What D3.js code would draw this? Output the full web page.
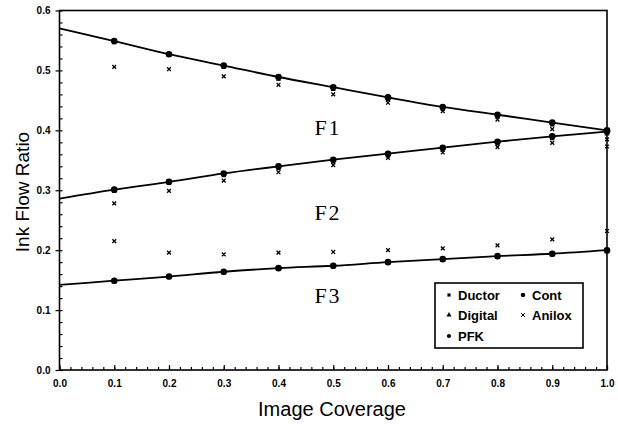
<!DOCTYPE html>
<html><head><meta charset="utf-8">
<script src="https://cdn.jsdelivr.net/npm/d3@7"></script>
<style>body{margin:0;background:#fff}svg{display:block}</style>
</head><body>
<script>
// ---- data ----
const fitCoverage = [0.0,0.1,0.2,0.3,0.4,0.5,0.6,0.7,0.8,0.9,1.0];
const coverage = [0.1,0.2,0.3,0.4,0.5,0.6,0.7,0.8,0.9,1.0];
const fitF1 = [0.570,0.549,0.527,0.508,0.489,0.472,0.455,0.439,0.426,0.413,0.400];
const fitF2 = [0.286,0.301,0.314,0.328,0.340,0.351,0.361,0.371,0.381,0.390,0.398];
const fitF3 = [0.142,0.149,0.156,0.164,0.170,0.174,0.180,0.185,0.190,0.194,0.200];
// measured series (F1, F2, F3 groups)
const pfkF1 = [0.549,0.527,0.508,0.489,0.472,0.455,0.439,0.426,0.413,0.400];
const pfkF2 = [0.301,0.314,0.328,0.340,0.351,0.361,0.371,0.381,0.390,0.398];
const pfkF3 = [0.149,0.156,0.164,0.170,0.174,0.180,0.185,0.190,0.194,0.200];
const contF1 = [0.549,0.528,0.508,0.488,0.472,0.456,0.439,0.425,0.412,0.401];
const contF2 = [0.302,0.314,0.328,0.340,0.351,0.362,0.371,0.381,0.390,0.397];
const contF3 = [0.150,0.156,0.164,0.170,0.175,0.180,0.185,0.190,0.195,0.201];
const ductorF1 = [0.547,0.526,0.506,0.486,0.469,0.452,0.436,0.423,0.410,0.397];
const ductorF2 = [0.299,0.312,0.325,0.337,0.348,0.358,0.368,0.378,0.387,0.395];
const ductorF3 = [0.148,0.155,0.163,0.169,0.173,0.179,0.184,0.189,0.193,0.198];
const digitalF1 = [0.546,0.525,0.505,0.485,0.468,0.451,0.435,0.422,0.409,0.396];
const digitalF2 = [0.298,0.311,0.324,0.336,0.347,0.357,0.367,0.377,0.386,0.394];
const digitalF3 = [0.147,0.154,0.162,0.168,0.172,0.178,0.183,0.188,0.192,0.197];
const aniloxF1 = [0.506,0.502,0.490,0.476,0.460,0.446,0.432,0.418,0.402,0.385];
const aniloxF2 = [0.278,0.299,0.316,0.330,0.342,0.354,0.363,0.372,0.379,0.373];
const aniloxF3 = [0.215,0.196,0.193,0.196,0.197,0.200,0.203,0.208,0.218,0.232];
const xTicks = [0,0.1,0.2,0.3,0.4,0.5,0.6,0.7,0.8,0.9,1.0];
const yTicks = [0,0.1,0.2,0.3,0.4,0.5,0.6];
const groupLabels = ["F1","F2","F3"];
const legendNames = ["Ductor","Cont","Digital","Anilox","PFK"];

// ---- layout ----
const W = 618, H = 430;
const L = 59.5, R = 607, T = 10.5, B = 370;
const svg = d3.select("body").append("svg").attr("width", W).attr("height", H);
const x = d3.scaleLinear().domain([0,1]).range([L,R]);
const y = d3.scaleLinear().domain([0,0.6]).range([B,T]);
const sans = "Arial, 'Liberation Sans', sans-serif";

// frame
svg.append("rect").attr("x",L).attr("y",T).attr("width",R-L).attr("height",B-T)
  .attr("fill","none").attr("stroke","#000").attr("stroke-width",1.6);

// x axis
const xAxis = svg.append("g").attr("transform",`translate(0,${B})`);
xAxis.call(d3.axisBottom(x).tickValues(d3.range(0,1.0001,0.02)).tickSize(-3).tickFormat(""))
  .call(g=>g.select(".domain").remove());
xAxis.append("g").call(d3.axisBottom(x).tickValues(xTicks).tickSize(-5).tickSizeOuter(0).tickPadding(10).tickFormat(d3.format(".1f")))
  .call(g=>g.select(".domain").remove())
  .call(g=>g.selectAll("text").attr("font-family",sans).attr("font-weight","bold").attr("font-size",10).attr("fill","#000"));
xAxis.selectAll("line").attr("stroke","#000").attr("stroke-width",1.2);

// y axis
const yAxis = svg.append("g").attr("transform",`translate(${L},0)`);
yAxis.call(d3.axisLeft(y).tickValues(d3.range(0,0.6001,0.02)).tickSize(-3).tickFormat(""))
  .call(g=>g.select(".domain").remove());
yAxis.append("g").call(d3.axisLeft(y).tickValues(yTicks).tickSize(4).tickSizeOuter(0).tickPadding(5).tickFormat(d3.format(".1f")))
  .call(g=>g.select(".domain").remove())
  .call(g=>g.selectAll("text").attr("font-family",sans).attr("font-weight","bold").attr("font-size",10).attr("fill","#000"));
yAxis.selectAll("line").attr("stroke","#000").attr("stroke-width",1.2);

// titles
svg.append("text").attr("x",332).attr("y",416).attr("text-anchor","middle")
  .attr("font-family",sans).attr("font-size",20).text("Image Coverage");
svg.append("text").attr("transform",`translate(29,${192}) rotate(-90)`).attr("text-anchor","middle")
  .attr("font-family",sans).attr("font-size",19).text("Ink Flow Ratio");

// fit curves
const fits = [fitF1, fitF2, fitF3];
const line = d3.line().x((d,i)=>x(fitCoverage[i])).y(d=>y(d)).curve(d3.curveMonotoneX);
fits.forEach(f=>{
  svg.append("path").attr("d",line(f)).attr("fill","none").attr("stroke","#000").attr("stroke-width",1.8);
});

// markers
const sym = {
  Ductor: d3.symbol().type(d3.symbolSquare).size(10),
  Cont: d3.symbol().type(d3.symbolCircle).size(16),
  Digital: d3.symbol().type(d3.symbolTriangle).size(11),
  Anilox: d3.symbol().type(d3.symbolX).size(11),
  PFK: d3.symbol().type(d3.symbolCircle).size(34)
};
const series = [
  ["Anilox",[aniloxF1,aniloxF2,aniloxF3]],
  ["Ductor",[ductorF1,ductorF2,ductorF3]],
  ["Digital",[digitalF1,digitalF2,digitalF3]],
  ["Cont",[contF1,contF2,contF3]],
  ["PFK",[pfkF1,pfkF2,pfkF3]]
];
series.forEach(([name, groups])=>{
  groups.forEach(vals=>{
    svg.append("g").selectAll("path").data(vals).join("path")
      .attr("transform",(d,i)=>`translate(${x(coverage[i])},${y(d)})`)
      .attr("d",sym[name]())
      .attr("fill","#000")
      .attr("stroke", name==="Anilox" ? "#000" : "none")
      .attr("stroke-width", name==="Anilox" ? 1.3 : 0);
  });
});

// group labels
const labelY = [130, 215, 298];
groupLabels.forEach((t,i)=>{
  svg.append("text").attr("x",328).attr("y",labelY[i]).attr("text-anchor","middle")
    .attr("dominant-baseline","middle").attr("letter-spacing",2)
    .attr("font-family","'Liberation Serif', 'Times New Roman', serif").attr("font-size",22).text(t);
});

// legend
const lg = svg.append("g");
lg.append("rect").attr("x",435).attr("y",283).attr("width",148).attr("height",65)
  .attr("fill","#fff").attr("stroke","#000").attr("stroke-width",1.6);
const legPos = {Ductor:[449,295], Cont:[523,295], Digital:[449,315], Anilox:[523,315], PFK:[449,336]};
legendNames.forEach(n=>{
  const [lx,ly] = legPos[n];
  lg.append("path").attr("transform",`translate(${lx},${ly})`)
    .attr("d", (n==="PFK"?d3.symbol().type(d3.symbolCircle).size(14):sym[n])())
    .attr("fill","#000").attr("stroke",n==="Anilox"?"#000":"none").attr("stroke-width",1);
  lg.append("text").attr("x",lx+9).attr("y",ly).attr("dominant-baseline","central")
    .attr("font-family",sans).attr("font-weight","bold").attr("font-size",13).text(n);
});
</script>
</body></html>
